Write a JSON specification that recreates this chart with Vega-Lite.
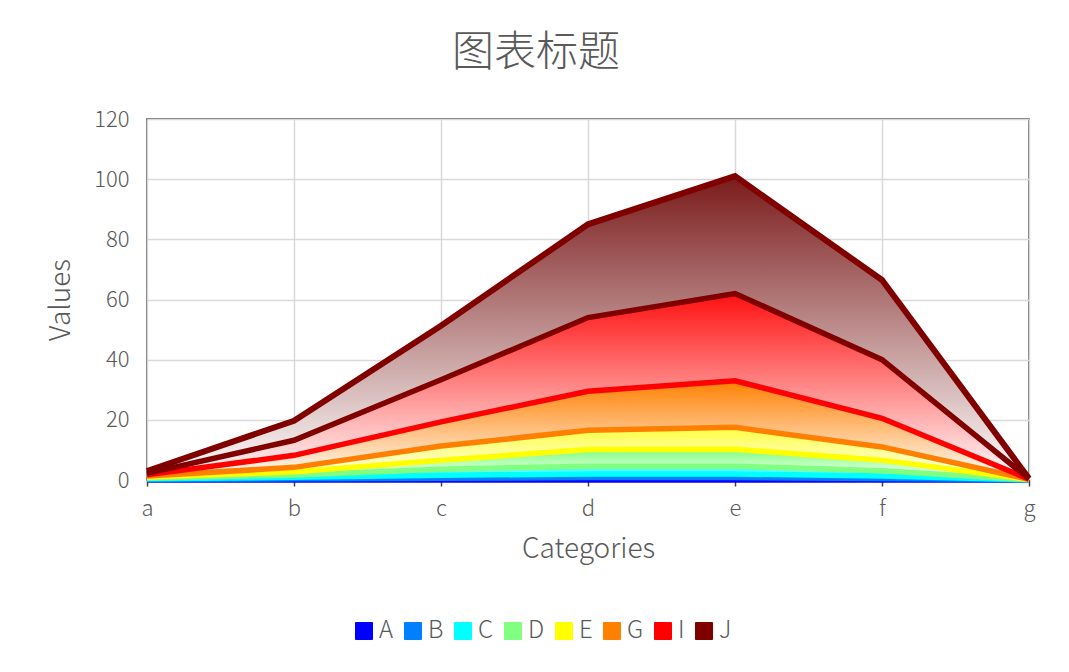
{
  "$schema": "https://vega.github.io/schema/vega-lite/v6.json",
  "autosize": "none",
  "width": 882,
  "height": 361,
  "padding": {"left": 147, "top": 119, "right": 40, "bottom": 192},
  "background": "white",
  "title": {"text": "图表标题", "fontSize": 42, "color": "#595959", "fontWeight": 300, "font": "Noto Sans CJK SC", "offset": 33, "dx": -52, "anchor": "middle"},
  "config": {
    "font": "Noto Sans CJK SC",
    "view": {"stroke": "#404040", "strokeWidth": 1.5},
    "axis": {"labelFont": "Noto Sans CJK SC", "titleFont": "Noto Sans CJK SC", "labelColor": "#595959", "titleColor": "#595959", "labelFontSize": 22, "titleFontSize": 28, "labelFontWeight": 300, "titleFontWeight": 300, "gridColor": "#d9d9d9", "gridWidth": 1.5}
  },
  "data": {"values": [
    {"c":"a","s":"A","v":0.2},{"c":"b","s":"A","v":0.4},{"c":"c","s":"A","v":0.6},{"c":"d","s":"A","v":0.8},{"c":"e","s":"A","v":0.8},{"c":"f","s":"A","v":0.5},{"c":"g","s":"A","v":0.05},
    {"c":"a","s":"B","v":0.2},{"c":"b","s":"B","v":0.5},{"c":"c","s":"B","v":1.0},{"c":"d","s":"B","v":1.2},{"c":"e","s":"B","v":1.2},{"c":"f","s":"B","v":0.8},{"c":"g","s":"B","v":0.05},
    {"c":"a","s":"C","v":0.3},{"c":"b","s":"C","v":0.8},{"c":"c","s":"C","v":2.0},{"c":"d","s":"C","v":2.6},{"c":"e","s":"C","v":2.6},{"c":"f","s":"C","v":1.8},{"c":"g","s":"C","v":0.05},
    {"c":"a","s":"D","v":0.3},{"c":"b","s":"D","v":1.0},{"c":"c","s":"D","v":3.0},{"c":"d","s":"D","v":5.5},{"c":"e","s":"D","v":5.6},{"c":"f","s":"D","v":3.5},{"c":"g","s":"D","v":0.05},
    {"c":"a","s":"E","v":0.3},{"c":"b","s":"E","v":1.5},{"c":"c","s":"E","v":4.7},{"c":"d","s":"E","v":6.4},{"c":"e","s":"E","v":7.3},{"c":"f","s":"E","v":4.4},{"c":"g","s":"E","v":0.05},
    {"c":"a","s":"G","v":0.4},{"c":"b","s":"G","v":4.0},{"c":"c","s":"G","v":8.0},{"c":"d","s":"G","v":13.0},{"c":"e","s":"G","v":15.5},{"c":"f","s":"G","v":9.5},{"c":"g","s":"G","v":0.05},
    {"c":"a","s":"I","v":0.5},{"c":"b","s":"I","v":5.0},{"c":"c","s":"I","v":14.0},{"c":"d","s":"I","v":24.5},{"c":"e","s":"I","v":29.0},{"c":"f","s":"I","v":19.5},{"c":"g","s":"I","v":0.1},
    {"c":"a","s":"J","v":0.8},{"c":"b","s":"J","v":6.5},{"c":"c","s":"J","v":18.0},{"c":"d","s":"J","v":31.0},{"c":"e","s":"J","v":39.0},{"c":"f","s":"J","v":26.5},{"c":"g","s":"J","v":0.1}
  ]},
  "transform": [
    {"stack": "v", "groupby": ["c"], "sort": [{"field": "s", "order": "ascending"}], "as": ["y0", "y1"]}
  ],
  "encoding": {
    "x": {"field": "c", "type": "ordinal", "scale": {"type": "point", "padding": 0},
      "axis": {"title": "Categories", "labelAngle": 0, "grid": true, "ticks": true, "tickColor": "#404040", "tickSize": 6, "tickWidth": 1.5, "domain": true, "domainColor": "#404040", "domainWidth": 1.5, "labelPadding": 12, "titlePadding": 16}},
    "y": {"field": "y1", "type": "quantitative", "scale": {"domain": [0, 120]},
      "axis": {"title": "Values", "values": [0,20,40,60,80,100,120], "ticks": false, "domain": false, "labelPadding": 18, "titlePadding": 18}}
  },
  "layer": [
    {"transform": [{"filter": "datum.s === 'A'"}], "mark": {"type": "area", "color": {"gradient": "linear", "x1": 0, "y1": 0, "x2": 0, "y2": 1, "stops": [{"offset": 0, "color": "#0000ff"}, {"offset": 1, "color": "#ffffff"}]}}, "encoding": {"y2": {"field": "y0"}}},
    {"transform": [{"filter": "datum.s === 'B'"}], "mark": {"type": "area", "color": {"gradient": "linear", "x1": 0, "y1": 0, "x2": 0, "y2": 1, "stops": [{"offset": 0, "color": "#0080ff"}, {"offset": 1, "color": "#ffffff"}]}}, "encoding": {"y2": {"field": "y0"}}},
    {"transform": [{"filter": "datum.s === 'C'"}], "mark": {"type": "area", "color": {"gradient": "linear", "x1": 0, "y1": 0, "x2": 0, "y2": 1, "stops": [{"offset": 0, "color": "#00ffff"}, {"offset": 1, "color": "#ffffff"}]}}, "encoding": {"y2": {"field": "y0"}}},
    {"transform": [{"filter": "datum.s === 'D'"}], "mark": {"type": "area", "color": {"gradient": "linear", "x1": 0, "y1": 0, "x2": 0, "y2": 1, "stops": [{"offset": 0, "color": "#80ff80"}, {"offset": 1, "color": "#ffffff"}]}}, "encoding": {"y2": {"field": "y0"}}},
    {"transform": [{"filter": "datum.s === 'E'"}], "mark": {"type": "area", "color": {"gradient": "linear", "x1": 0, "y1": 0, "x2": 0, "y2": 1, "stops": [{"offset": 0, "color": "#ffff40"}, {"offset": 1, "color": "#ffffff"}]}}, "encoding": {"y2": {"field": "y0"}}},
    {"transform": [{"filter": "datum.s === 'G'"}], "mark": {"type": "area", "color": {"gradient": "linear", "x1": 0, "y1": 0, "x2": 0, "y2": 1, "stops": [{"offset": 0, "color": "#ff8000"}, {"offset": 1, "color": "#ffffff"}]}}, "encoding": {"y2": {"field": "y0"}}},
    {"transform": [{"filter": "datum.s === 'I'"}], "mark": {"type": "area", "color": {"gradient": "linear", "x1": 0, "y1": 0, "x2": 0, "y2": 1, "stops": [{"offset": 0, "color": "#ff1010"}, {"offset": 1, "color": "#ffffff"}]}}, "encoding": {"y2": {"field": "y0"}}},
    {"transform": [{"filter": "datum.s === 'J'"}], "mark": {"type": "area", "color": {"gradient": "linear", "x1": 0, "y1": 0, "x2": 0, "y2": 1, "stops": [{"offset": 0, "color": "#7a1a1a"}, {"offset": 1, "color": "#ffffff"}]}}, "encoding": {"y2": {"field": "y0"}}},
    {"mark": {"type": "line", "strokeWidth": 5.5},
      "encoding": {
        "y": {"field": "y0", "type": "quantitative"},
        "color": {"field": "s", "type": "nominal",
          "scale": {"domain": ["A","B","C","D","E","G","I","J"], "range": ["#0000ff","#0080ff","#00ffff","#80ff80","#ffff00","#ff8000","#ff0000","#800000"]},
          "legend": {"title": null, "orient": "none", "direction": "horizontal", "legendX": 205, "legendY": 500, "symbolType": "square", "symbolSize": 289, "symbolStrokeWidth": 1, "labelFontSize": 24, "labelFontWeight": 300, "labelColor": "#595959", "labelFont": "Noto Sans CJK SC", "labelOffset": 3, "columnPadding": 7,
            "encode": {"symbols": {"update": {"fill": {"scale": "color", "field": "value"}, "fillOpacity": {"value": 1}}}}}
        }
      }},
    {"transform": [{"filter": "datum.s === 'J'"}], "mark": {"type": "line", "strokeWidth": 6, "color": "#800000"}, "encoding": {}}
  ]
}
